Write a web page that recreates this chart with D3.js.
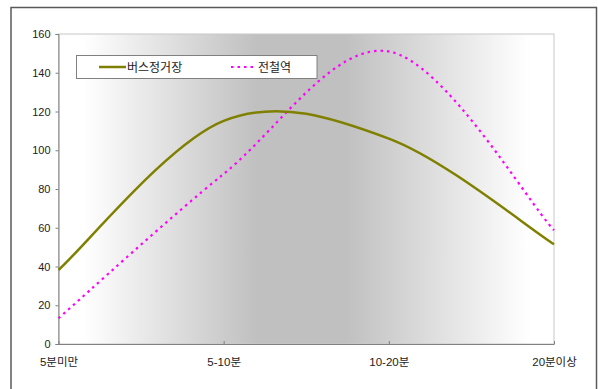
<!DOCTYPE html>
<html><head><meta charset="utf-8">
<script src="https://cdn.jsdelivr.net/npm/d3@7"></script>
<style>html,body{margin:0;padding:0;background:#fff;}svg{display:block;}</style>
</head><body>
<script>
const categories = ["5분미만", "5-10분", "10-20분", "20분이상"];
const busValues = [38.2, 115.2, 106, 51.5];
const subwayValues = [13.3, 87.8, 151, 58.7];
const seriesNames = ["버스정거장", "전철역"];
const yTicks = [0, 20, 40, 60, 80, 100, 120, 140, 160];

const W = 598, H = 389;
const svg = d3.select("body").append("svg").attr("width", W).attr("height", H);
const font = "'Liberation Sans', Arial, 'Noto Sans CJK KR', sans-serif";

// outer frame
svg.append("rect").attr("x", 11).attr("y", 7.5).attr("width", 585.5).attr("height", 395)
  .attr("fill", "#fff").attr("stroke", "#5a5a5a").attr("stroke-width", 1.5);

const L = 58.5, R = 554, T = 34, B = 344;
const x = d3.scalePoint().domain(categories).range([L, R]);
const y = d3.scaleLinear().domain([0, 160]).range([B, T]);

const defs = svg.append("defs");
const g = defs.append("linearGradient").attr("id", "bg").attr("x1", 0).attr("x2", 1).attr("y1", 0).attr("y2", 0);
g.append("stop").attr("offset", "0").attr("stop-color", "#ffffff");
g.append("stop").attr("offset", "0.05").attr("stop-color", "#ffffff");
g.append("stop").attr("offset", "0.4").attr("stop-color", "#c0c0c0");
g.append("stop").attr("offset", "0.58").attr("stop-color", "#c0c0c0");
g.append("stop").attr("offset", "0.95").attr("stop-color", "#ffffff");
g.append("stop").attr("offset", "1").attr("stop-color", "#ffffff");

svg.append("rect").attr("x", L).attr("y", T).attr("width", R - L).attr("height", B - T)
  .attr("fill", "url(#bg)").attr("stroke", "#c8c8c8").attr("stroke-width", 1);

// axes
const yAxis = d3.axisLeft(y).tickValues(yTicks).tickSize(3).tickPadding(5);
const ya = svg.append("g").attr("transform", `translate(${L},0)`).call(yAxis);
ya.select(".domain").attr("stroke", "#808080");
ya.selectAll(".tick line").attr("stroke", "#808080");
ya.selectAll("text").attr("font-family", font).attr("font-size", 11).attr("fill", "#222");

const xAxis = d3.axisBottom(x).tickSize(0).tickPadding(14);
const xa = svg.append("g").attr("transform", `translate(0,${B})`).call(xAxis);
xa.select(".domain").attr("stroke", "#808080");
xa.selectAll("text").attr("font-family", font).attr("font-size", 11.5).attr("fill", "#222");
xa.selectAll(".tick").append("line").attr("y1", -3).attr("y2", 0).attr("stroke", "#808080");

// Excel-style smoothed line: Bezier segments, control arms = 1/6 of neighbour chord,
// end points duplicated as their own neighbours.
function smoothPath(values) {
  const pts = values.map((v, i) => [x(categories[i]), y(v)]);
  const p = d3.path();
  const n = pts.length;
  p.moveTo(pts[0][0], pts[0][1]);
  for (let i = 0; i < n - 1; i++) {
    const p0 = pts[Math.max(0, i - 1)], p1 = pts[i], p2 = pts[i + 1], p3 = pts[Math.min(n - 1, i + 2)];
    const lim = (a, b, c, d) => {
      const dab = Math.hypot(b[0] - a[0], b[1] - a[1]);
      const dcd = Math.hypot(d[0] - c[0], d[1] - c[1]);
      let f = 1 / 6;
      if (dab / 6 > dcd / 2 && dab > 0) f = dcd / (2 * dab);
      return f;
    };
    const f1 = lim(p0, p2, p1, p2), f2 = lim(p1, p3, p1, p2);
    p.bezierCurveTo(
      p1[0] + f1 * (p2[0] - p0[0]), p1[1] + f1 * (p2[1] - p0[1]),
      p2[0] - f2 * (p3[0] - p1[0]), p2[1] - f2 * (p3[1] - p1[1]),
      p2[0], p2[1]);
  }
  return p.toString();
}

svg.append("path").attr("d", smoothPath(subwayValues)).attr("fill", "none")
  .attr("stroke", "#ff00ff").attr("stroke-width", 2.2).attr("stroke-dasharray", "2.5,4");
svg.append("path").attr("d", smoothPath(busValues)).attr("fill", "none")
  .attr("stroke", "#808000").attr("stroke-width", 2.5);

// legend
const lg = svg.append("g");
lg.append("rect").attr("x", 76.5).attr("y", 55.5).attr("width", 240.5).attr("height", 23)
  .attr("fill", "#fff").attr("stroke", "#808080").attr("stroke-width", 1);
lg.append("line").attr("x1", 99).attr("x2", 126).attr("y1", 67).attr("y2", 67)
  .attr("stroke", "#808000").attr("stroke-width", 2.5);
lg.append("text").attr("x", 127).attr("y", 71.5).text(seriesNames[0])
  .attr("font-family", font).attr("font-size", 12).attr("fill", "#222");
lg.append("line").attr("x1", 231).attr("x2", 257).attr("y1", 67).attr("y2", 67)
  .attr("stroke", "#ff00ff").attr("stroke-width", 2.2).attr("stroke-dasharray", "2.5,4");
lg.append("text").attr("x", 258).attr("y", 71.5).text(seriesNames[1])
  .attr("font-family", font).attr("font-size", 12).attr("fill", "#222");
</script>
</body></html>
